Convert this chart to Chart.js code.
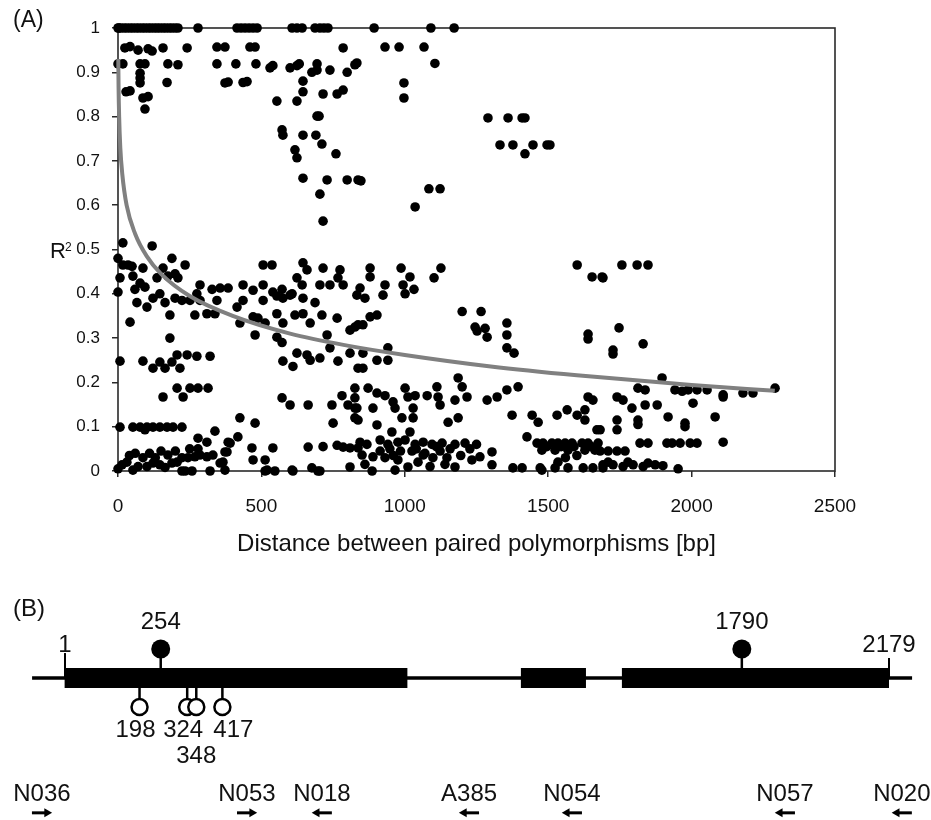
<!DOCTYPE html>
<html><head><meta charset="utf-8">
<script src="https://cdn.jsdelivr.net/npm/chart.js@4.4.1/dist/chart.umd.min.js"></script>
<style>
html,body{margin:0;padding:0;background:#fff;}
#wrap{position:relative;width:931px;height:820px;background:#fff;}
#cA{position:absolute;left:0;top:0;width:931px;height:580px;}
#cB{position:absolute;left:0;top:590px;width:931px;height:230px;}
</style></head><body>
<div id="wrap"><canvas id="cA" width="931" height="580"></canvas><canvas id="cB" width="931" height="230"></canvas></div>
<script>
const FONT = '"Liberation Sans", Arial, Helvetica, sans-serif';

// ---------- Panel A data ----------
const xTickLabels = ['0', '500', '1000', '1500', '2000', '2500'];
const yTickLabels = ['0', '0.1', '0.2', '0.3', '0.4', '0.5', '0.6', '0.7', '0.8', '0.9', '1'];
const xAxisTitle = 'Distance between paired polymorphisms [bp]';

// [distance (bp), R²]
const points = [
[0,1],[3,1],[10,1],[21,1],[31,1],[42,1],[52,1],[63,1],[73,1],[84,1],[94,1],[105,1],[115,1],[126,1],[136,1],[146,1],[157,1],[167,1],[178,1],[188,1],[199,1],[209,1],[279,1],[415,1],[429,1],[443,1],[457,1],[471,1],[485,1],[607,1],[624,1],[642,1],[687,1],[704,1],[718,1],[732,1],[893,1],[1091,1],[1172,1],
[24,0.955],[42,0.958],[70,0.95],[105,0.953],[119,0.948],[157,0.955],[241,0.955],[345,0.957],[373,0.957],[460,0.957],[478,0.957],[785,0.955],[931,0.957],[980,0.957],[1067,0.957],
[0,0.919],[17,0.919],[77,0.919],[94,0.919],[174,0.919],[209,0.917],[345,0.919],[411,0.919],[481,0.919],[530,0.91],[540,0.915],[600,0.91],[624,0.915],[632,0.919],[676,0.9],[694,0.905],[694,0.919],[739,0.905],[799,0.9],[826,0.917],[833,0.921],[1105,0.92],
[77,0.898],[77,0.887],[77,0.876],[171,0.877],[373,0.876],[384,0.878],[436,0.877],[450,0.879],[645,0.88],[645,0.856],[715,0.851],[764,0.851],[785,0.86],[28,0.856],[42,0.858],[87,0.842],[105,0.845],[94,0.817],[554,0.835],[624,0.835],[997,0.876],[997,0.842],
[694,0.801],[701,0.801],[572,0.77],[575,0.758],[645,0.758],[690,0.758],[711,0.738],[760,0.716],[617,0.725],[624,0.707],[645,0.661],[729,0.657],[799,0.657],[837,0.657],[704,0.625],[715,0.564],[847,0.655],[1084,0.637],[1123,0.637],[1036,0.596],[1290,0.797],[1360,0.797],[1409,0.797],[1419,0.797],[1332,0.736],[1377,0.736],[1419,0.716],[1447,0.736],[1496,0.736],[1506,0.736],
[17,0.515],[119,0.508],[0,0.48],[188,0.48],
[17,0.465],[35,0.465],[49,0.462],[87,0.458],[157,0.458],[199,0.445],[234,0.465],[506,0.465],[537,0.465],[645,0.47],[659,0.454],[715,0.458],[774,0.454],
[7,0.436],[52,0.44],[77,0.424],[136,0.436],[174,0.44],[209,0.436],[0,0.404],[59,0.41],[94,0.415],[286,0.42],[328,0.41],[356,0.413],[384,0.413],[436,0.42],[471,0.408],[506,0.42],[540,0.404],[572,0.41],[600,0.397],[624,0.436],[642,0.42],[704,0.42],[739,0.42],[767,0.436],[785,0.42],[833,0.397],
[66,0.38],[101,0.37],[122,0.39],[146,0.4],[164,0.38],[199,0.39],[223,0.385],[251,0.385],[275,0.4],[286,0.385],[345,0.385],[415,0.37],[436,0.385],[506,0.385],[554,0.395],[575,0.39],[607,0.4],[645,0.39],[687,0.38],
[42,0.336],[181,0.352],[268,0.352],[310,0.355],[338,0.355],[425,0.334],[471,0.348],[488,0.345],[513,0.334],[554,0.355],[575,0.334],[617,0.352],[645,0.355],[670,0.334],[711,0.352],[764,0.345],[809,0.318],[837,0.33],
[181,0.3],[478,0.307],[554,0.302],[572,0.29],[729,0.307],[739,0.278],
[7,0.248],[87,0.248],[122,0.232],[146,0.246],[164,0.232],[188,0.246],[206,0.262],[216,0.232],[241,0.262],[275,0.259],[321,0.259],[575,0.248],[610,0.236],[624,0.266],[659,0.262],[670,0.25],[704,0.255],[767,0.248],[809,0.266],[837,0.232],
[157,0.167],[206,0.187],[227,0.167],[251,0.187],[279,0.187],[314,0.187],[572,0.165],[600,0.149],[663,0.149],[746,0.149],[781,0.17],[802,0.149],[826,0.187],[826,0.165],[833,0.142],
[7,0.099],[52,0.099],[77,0.099],[101,0.099],[122,0.099],[146,0.099],[171,0.099],[192,0.099],[223,0.099],[94,0.093],[425,0.12],[478,0.108],[338,0.09],[750,0.108],[837,0.115],
[279,0.074],[310,0.065],[384,0.065],[418,0.077],[467,0.052],[540,0.052],[663,0.054],[715,0.055],[764,0.058],[785,0.054],[809,0.052],[837,0.052],[279,0.05],[391,0.063],[373,0.043],[356,0.018],
[14,0.014],[31,0.02],[52,0.002],[87,0.03],[101,0.01],[122,0.018],[146,0.014],[174,0.036],[188,0.018],[206,0.02],[223,0.03],[244,0.03],[268,0.032],[286,0.036],[310,0.032],[331,0.036],[366,0.02],[234,0],[258,0],[321,0],[373,0.002],[471,0.025],[520,0.002],[547,0],[610,0],[676,0.007],[704,0],[809,0.009],[380,0.043],[0,0.005],[70,0.01],[164,0.008],[513,0.025],[697,0],[607,0.002],[223,0],[513,0],
[40,0.035],[60,0.04],[110,0.04],[130,0.03],[150,0.045],[200,0.045],[250,0.05],
[879,0.458],[879,0.438],[987,0.458],[1018,0.438],[1126,0.458],[1102,0.436],[844,0.413],[861,0.39],[931,0.42],[924,0.397],[994,0.42],[1001,0.4],[1032,0.41],[1601,0.465],[1653,0.438],[1688,0.438],
[879,0.348],[903,0.352],[854,0.33],[826,0.325],[1200,0.36],[1266,0.36],[1245,0.325],[1252,0.316],[1280,0.322],[1287,0.302],[1356,0.334],[1356,0.307],[1356,0.278],[1381,0.266],[1639,0.309],[1639,0.298],
[854,0.266],[903,0.25],[941,0.278],[941,0.25],[854,0.232],
[872,0.187],[903,0.176],[931,0.17],[959,0.156],[1001,0.187],[1011,0.167],[1036,0.17],[1078,0.17],[1112,0.19],[1116,0.167],[1186,0.21],[1200,0.19],[1217,0.167],[1175,0.16],[1287,0.16],[1322,0.167],[1356,0.183],[1395,0.19],[1639,0.167],[1656,0.16],
[826,0.142],[889,0.142],[966,0.142],[1029,0.142],[1123,0.149],[826,0.12],[990,0.12],[1029,0.12],[1151,0.11],[1186,0.12],[903,0.104],[1374,0.126],[1444,0.126],[1465,0.11],[1531,0.126],[1566,0.138],[1601,0.126],[1628,0.138],[1628,0.115],[1670,0.093],
[955,0.088],[1018,0.088],[844,0.065],[868,0.06],[914,0.07],[941,0.06],[976,0.065],[1001,0.07],[1036,0.06],[1064,0.065],[1095,0.06],[1130,0.063],[1175,0.06],[1210,0.063],[1304,0.043],[1426,0.077],[1461,0.063],[1482,0.063],[1513,0.063],[1534,0.063],[1559,0.063],[1583,0.063],[1618,0.063],[1639,0.063],[1674,0.063],[1478,0.047],[1524,0.047],[1569,0.047],[1628,0.047],[1663,0.047],
[851,0.036],[889,0.032],[931,0.03],[976,0.025],[1011,0.009],[1064,0.036],[1098,0.03],[1147,0.03],[1175,0.009],[1234,0.025],[1262,0.032],[1304,0.014],[886,0],[966,0.002],[1377,0.007],[1409,0.007],[1472,0.007],[1478,0.002],[1534,0.02],[1524,0.007],[1569,0.007],[1622,0.007],[1656,0.007],[1691,0.007],
[914,0.045],[948,0.05],[1025,0.045],[1123,0.045],[1158,0.05],[1088,0.01],[1046,0.02],[861,0.015],[1227,0.05],
[1040,0.05],[1070,0.04],[1110,0.055],[985,0.045],[960,0.035],[1140,0.015],[1195,0.035],[1250,0.06],
[1495,0.055],[1545,0.055],[1590,0.055],[1650,0.055],[1600,0.035],[1560,0.03],
[1757,0.465],[1810,0.465],[1848,0.465],[1691,0.436],[1747,0.323],[1831,0.287],[1726,0.273],[1726,0.264],
[1897,0.21],[1813,0.187],[1838,0.183],[1942,0.183],[1967,0.18],[1988,0.183],[2019,0.183],[2054,0.183],[2110,0.167],[2179,0.176],[2214,0.176],[2291,0.187],[2005,0.153],[2110,0.172],
[1740,0.167],[1761,0.16],[1792,0.142],[1838,0.149],[1880,0.149],[1681,0.093],[1740,0.115],[1740,0.093],[1813,0.115],[1813,0.105],[1918,0.122],[1977,0.108],[1977,0.1],[2082,0.122],
[1681,0.045],[1709,0.045],[1740,0.045],[1768,0.045],[1820,0.063],[1848,0.063],[1914,0.063],[1932,0.063],[1960,0.063],[1995,0.063],[2019,0.063],[2110,0.065],
[1691,0.014],[1726,0.014],[1761,0.01],[1796,0.014],[1831,0.01],[1873,0.014],[1900,0.012],[1953,0.005],[1709,0.02],[1778,0.02],[1848,0.018]
];

// logarithmic trend line: [distance, R²]
const trend = [[1,0.93],[2,0.865],[4,0.80],[8,0.73],[15,0.67],[30,0.60],[60,0.535],[100,0.485],[150,0.445],[250,0.395],[400,0.35],[600,0.31],[800,0.283],[1000,0.262],[1300,0.236],[1600,0.216],[2000,0.194],[2290,0.181]];

// ---------- Panel B data (gene positions in bp) ----------
const backbone = [-86, 2240];
const exons = [[0, 906], [1206, 1378], [1473, 2179]];
const geneEnds = [1, 2179];
const snpsAbove = [254, 1790];
const snpsBelow = [198, 324, 348, 417];
const primerNames = ['N036', 'N053', 'N018', 'A385', 'N054', 'N057', 'N020'];
const primerPos = [-60, 482, 680, 1069, 1341, 1904, 2213];
const primerDir = [1, 1, -1, -1, -1, -1, -1];

// ---------- Panel A ----------
const frameA = {
  id: 'frameA',
  beforeDatasetsDraw(chart) {
    const {ctx, chartArea: a} = chart;
    ctx.save();
    ctx.strokeStyle = '#2a2a2a';
    ctx.lineWidth = 1.6;
    ctx.strokeRect(a.left, a.top, a.right - a.left, a.bottom - a.top);
    ctx.restore();
  },
  afterDraw(chart) {
    const {ctx} = chart;
    const yScale = chart.scales.y;
    ctx.save();
    ctx.fillStyle = '#111';
    ctx.textBaseline = 'middle';
    ctx.textAlign = 'left';
    ctx.font = '23px ' + FONT;
    ctx.fillText('(A)', 13, 21);
    const yMid = yScale.getPixelForValue(0.5);
    ctx.textBaseline = 'alphabetic';
    ctx.font = '22px ' + FONT;
    ctx.fillText('R', 50, yMid + 8);
    ctx.font = '12px ' + FONT;
    ctx.fillText('2', 65, yMid + 1);
    ctx.restore();
  }
};

new Chart(document.getElementById('cA'), {
  type: 'scatter',
  data: {
    datasets: [
      {
        label: 'Trend',
        data: trend.map(([x, y]) => ({x, y})),
        showLine: true,
        borderColor: '#808080',
        borderWidth: 4,
        pointRadius: 0,
        cubicInterpolationMode: 'monotone',
        fill: false,
        order: 0,
        clip: false
      },
      {
        label: 'Pairs',
        data: points.map(([x, y]) => ({x, y})),
        backgroundColor: '#000',
        borderColor: '#000',
        borderWidth: 0,
        pointRadius: 4.8,
        order: 1,
        clip: false
      }
    ]
  },
  options: {
    responsive: false,
    animation: false,
    events: [],
    layout: {autoPadding: false, padding: {left: 0, right: 96, top: 28, bottom: 0}},
    plugins: {legend: {display: false}, tooltip: {enabled: false}},
    scales: {
      x: {
        type: 'linear', min: 0, max: 2500,
        ticks: {
          stepSize: 500, padding: 18, color: '#111', font: {family: FONT, size: 19},
          callback: (v) => xTickLabels[Math.round(v / 500)]
        },
        grid: {drawOnChartArea: false, drawTicks: true, tickLength: 6, color: '#2a2a2a', lineWidth: 1.5},
        border: {display: false},
        title: {display: true, text: xAxisTitle, color: '#111', font: {family: FONT, size: 24}, padding: {top: 0, bottom: 21}},
        afterFit(s) { s.height = 109; }
      },
      y: {
        type: 'linear', min: 0, max: 1,
        ticks: {
          stepSize: 0.1, padding: 12, color: '#111', font: {family: FONT, size: 17},
          callback: (v) => yTickLabels[Math.round(v * 10)]
        },
        grid: {drawOnChartArea: false, drawTicks: true, tickLength: 6, color: '#2a2a2a', lineWidth: 1.5},
        border: {display: false},
        afterFit(s) { s.width = 118; }
      }
    }
  },
  plugins: [frameA]
});

// ---------- Panel B ----------
const LV = {exonTop: 0.345, above: 1, below: -1, endTick1: 0.86, endTick2: 0.69, primer: -4.65};
const seg = (x1, y1, x2, y2) => [{x: x1, y: y1}, {x: x2, y: y2}];
const lineDs = (data, width, order) => ({data, showLine: true, borderColor: '#000', borderWidth: width, pointRadius: 0, order, clip: false, borderCapStyle: 'butt'});

const dsB = [];
// circles
dsB.push({data: snpsAbove.map(x => ({x, y: LV.above})), pointRadius: 9.5, backgroundColor: '#000', borderColor: '#000', borderWidth: 0, order: 0, clip: false});
dsB.push({data: snpsBelow.map(x => ({x, y: LV.below})), pointRadius: 8, backgroundColor: '#fff', borderColor: '#000', borderWidth: 2.5, order: 0, clip: false});
// stems
snpsAbove.forEach(x => dsB.push(lineDs(seg(x, LV.exonTop - 0.1, x, LV.above), 2.5, 1)));
snpsBelow.forEach(x => dsB.push(lineDs(seg(x, -LV.exonTop + 0.1, x, LV.below), 2.5, 1)));
// gene end ticks
dsB.push(lineDs(seg(geneEnds[0], 0, geneEnds[0], LV.endTick1), 2, 1));
dsB.push(lineDs(seg(geneEnds[1], 0, geneEnds[1], LV.endTick2), 2, 1));
// exons
exons.forEach(([a, b]) => dsB.push(lineDs(seg(a, 0, b, 0), 20, 2)));
// backbone
dsB.push(lineDs(seg(backbone[0], 0, backbone[1], 0), 3.5, 3));
// primer arrows
const ARROW_HALF = 26.4, HEAD_OFF = 13.2;
primerPos.forEach((p, i) => {
  const d = primerDir[i];
  dsB.push(lineDs(seg(p - d * ARROW_HALF, LV.primer, p + d * HEAD_OFF, LV.primer), 3, 1));
});
dsB.push({
  data: primerPos.map((p, i) => ({x: p + primerDir[i] * HEAD_OFF, y: LV.primer})),
  pointStyle: 'triangle', pointRadius: 5.2,
  rotation: primerPos.map((p, i) => primerDir[i] > 0 ? 90 : 270),
  backgroundColor: '#000', borderColor: '#000', borderWidth: 0, order: 0, clip: false
});

const labelsB = [
  {text: '1', x: 1, level: 1.14, dx: 0},
  {text: '2179', x: 2179, level: 1.14, dx: 0},
  {text: '254', x: 254, level: 1.93, dx: 0},
  {text: '1790', x: 1790, level: 1.93, dx: 0},
  {text: '198', x: 198, level: -1.79, dx: -4},
  {text: '324', x: 324, level: -1.79, dx: -4},
  {text: '417', x: 417, level: -1.79, dx: 11},
  {text: '348', x: 348, level: -2.72, dx: 0}
];

const textB = {
  id: 'textB',
  afterDatasetsDraw(chart) {
    const {ctx, scales: {x, y}} = chart;
    ctx.save();
    ctx.fillStyle = '#111';
    ctx.textAlign = 'center';
    ctx.textBaseline = 'middle';
    ctx.font = '24px ' + FONT;
    labelsB.forEach(l => ctx.fillText(l.text, x.getPixelForValue(l.x) + l.dx, y.getPixelForValue(l.level)));
    primerNames.forEach((n, i) => ctx.fillText(n, x.getPixelForValue(primerPos[i]), y.getPixelForValue(-4.03)));
    ctx.textAlign = 'left';
    ctx.fillText('(B)', 13, 19);
    ctx.restore();
  }
};

new Chart(document.getElementById('cB'), {
  type: 'scatter',
  data: {datasets: dsB},
  options: {
    responsive: false,
    animation: false,
    events: [],
    layout: {autoPadding: false, padding: 0},
    plugins: {legend: {display: false}, tooltip: {enabled: false}},
    scales: {
      x: {type: 'linear', display: false, min: -170.8, max: 2290},
      y: {type: 'linear', display: false, min: -4.897, max: 3.034}
    }
  },
  plugins: [textB]
});
</script>
</body></html>
